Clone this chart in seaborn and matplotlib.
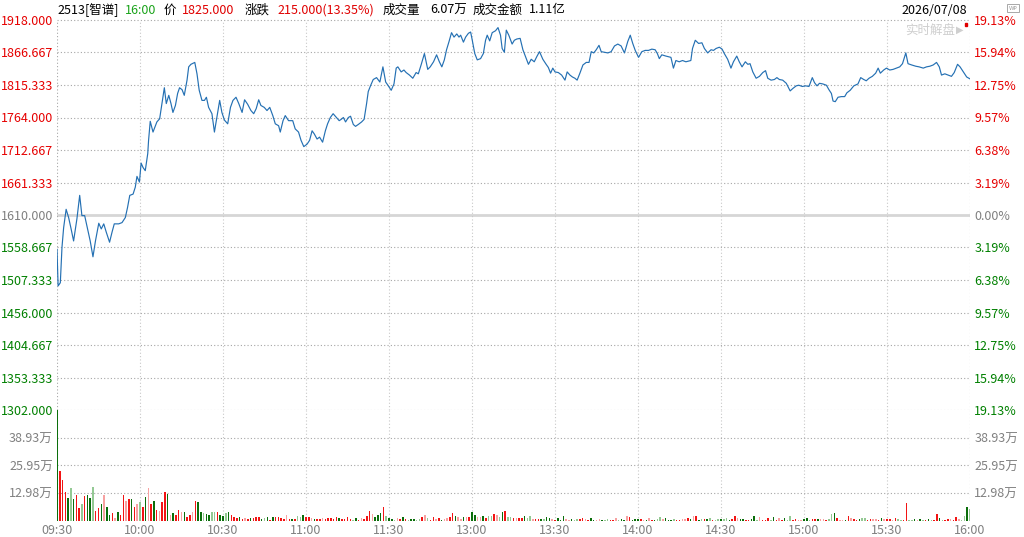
import numpy as np
import pandas as pd
import matplotlib
matplotlib.use("Agg")
import matplotlib.pyplot as plt
import seaborn as sns

# ---------------- data ----------------
prev_close = 1610.0

# minute offsets from 09:30 (HK session, lunch break removed) and prices
minutes_am = [0.0, 0.4, 1.2, 1.8, 2.4, 3.3, 4.2, 5.1, 6.0, 7.2, 8.2, 9.0, 10.0, 10.8, 12.0, 13.0, 13.9,
              15.1, 16.0, 16.9, 17.8, 19.0, 19.9, 20.7, 22.3, 23.5, 24.7, 25.5, 26.3, 27.5, 28.3, 28.9,
              29.8, 30.4, 31.1, 31.9, 32.8, 33.1, 33.7, 34.7, 35.3, 36.1, 37.1, 38.0, 38.8, 39.5, 40.4,
              41.2, 41.9, 42.8, 43.6, 44.3, 45.2, 46.0, 47.0, 47.6, 48.4, 49.8, 50.6, 51.4, 52.4, 53.3,
              54.0, 54.8, 56.0, 56.9, 57.8, 58.8, 59.6, 60.5, 61.7, 62.7, 63.6, 64.7, 65.7, 66.9, 67.8,
              68.9, 70.1, 71.1, 72.0, 72.9, 73.7, 74.9, 75.9, 76.9, 78.0, 78.9, 80.1, 80.7, 81.7, 82.5,
              83.7, 85.2, 86.1, 87.3, 88.2, 89.2, 90.4, 91.3, 92.2, 93.0, 94.0, 94.9, 96.0, 97.0, 97.8,
              98.8, 99.8, 101.0, 102.0]
prices_am = [1556, 1498, 1503, 1559, 1590, 1619, 1606, 1588, 1569, 1604, 1641, 1609, 1609, 1593, 1569, 1544, 1569,
             1597, 1588, 1596, 1583, 1567, 1583, 1596, 1596, 1598, 1606, 1622, 1641, 1643, 1654, 1671,
             1662, 1692, 1685, 1680, 1707, 1728, 1758, 1741, 1748, 1757, 1762, 1788, 1811, 1786, 1799,
             1786, 1772, 1783, 1802, 1811, 1808, 1799, 1823, 1844, 1848, 1851, 1833, 1807, 1791, 1791,
             1796, 1780, 1770, 1741, 1765, 1791, 1772, 1760, 1754, 1780, 1791, 1796, 1786, 1772, 1792,
             1785, 1775, 1770, 1778, 1792, 1783, 1780, 1775, 1780, 1767, 1754, 1751, 1741, 1759, 1767,
             1759, 1759, 1746, 1741, 1728, 1718, 1722, 1728, 1743, 1738, 1730, 1733, 1725, 1743, 1754,
             1764, 1770, 1764, 1759]

minutes_mid = [102.7, 103.5, 104.3, 105.3, 106.1, 107.1, 107.9, 108.9, 110.1, 111.0, 111.9, 112.5, 113.4,
               114.3, 115.5, 116.7, 117.8, 118.8, 119.6, 120.8, 121.8, 122.6, 123.2, 124.4, 125.4, 126.2,
               127.4, 128.6, 129.8, 130.6, 131.6, 132.8, 134.0, 134.9, 136.1, 137.2, 138.2, 139.1, 140.0,
               140.8, 141.7, 142.6, 143.5, 144.5, 145.3, 145.9, 146.9, 147.7, 148.7, 149.5, 150.1, 151.0,
               151.9, 153.1, 154.1, 154.9, 155.5, 156.4, 157.3, 158.5, 159.4, 160.3, 160.9, 161.7, 162.4,
               163.3, 164.5, 165.3, 166.2, 167.4, 168.4, 169.6, 170.4, 171.4, 172.5, 173.4, 174.4, 175.6,
               176.8, 177.6, 178.4, 179.2, 180.0, 181.2, 182.4, 183.6, 184.4, 185.4, 186.3, 187.2, 188.0,
               189.0, 190.1, 191.3, 192.3, 193.1, 194.0, 194.9, 195.9, 196.7, 197.9, 199.1, 200.3, 201.5,
               202.7, 203.9, 205.1, 206.3, 207.2, 208.1, 209.0, 210.2, 211.4, 212.6, 213.8, 215.0, 216.2,
               217.0]
prices_mid = [1761, 1764, 1757, 1764, 1766, 1753, 1750, 1753, 1757, 1761, 1786, 1805, 1815,
              1824, 1827, 1820, 1844, 1820, 1815, 1807, 1817, 1842, 1844, 1836, 1839, 1835,
              1831, 1826, 1835, 1833, 1847, 1865, 1840, 1844, 1852, 1863, 1852, 1844, 1855,
              1871, 1884, 1898, 1891, 1896, 1891, 1894, 1883, 1891, 1897, 1899, 1886, 1865,
              1855, 1857, 1865, 1886, 1894, 1885, 1898, 1901, 1906, 1894, 1873, 1867, 1902,
              1894, 1880, 1886, 1888, 1889, 1871, 1857, 1848, 1856, 1852, 1860, 1868, 1856,
              1848, 1843, 1834, 1842, 1836, 1835, 1831, 1823, 1836, 1831, 1828, 1826, 1823,
              1834, 1847, 1851, 1851, 1868, 1866, 1871, 1878, 1868, 1867, 1866, 1868, 1877,
              1880, 1877, 1866, 1884, 1894, 1881, 1870, 1859, 1868, 1870, 1870, 1872, 1871,
              1865]

minutes_pm = [217.7, 218.6, 220.1, 221.9, 222.8, 223.7, 224.9, 226.1, 227.3, 229.1, 229.7, 230.7, 231.9,
              233.1, 234.0, 235.2, 236.4, 237.3, 238.2, 239.4, 240.4, 241.2, 242.4, 243.6, 244.5, 245.7,
              246.6, 247.6, 248.8, 249.7, 250.5, 251.5, 252.7, 253.9, 255.1, 256.1, 256.9, 258.1, 259.3,
              260.2, 261.1, 262.3, 263.6, 265.0, 266.0, 267.2, 268.1, 269.4, 270.6, 271.8, 273.0, 273.8,
              274.7, 275.6, 276.8, 278.1, 279.0, 279.9, 280.5, 281.3, 282.3, 283.5, 284.7, 285.5, 286.7,
              288.0, 289.5, 290.5, 291.6, 292.5, 293.5, 294.7, 295.9, 296.8, 297.6, 298.8, 299.8, 301.0,
              302.2, 303.4, 304.6, 305.6, 306.8, 307.6, 308.9, 310.4, 311.6, 313.1, 314.3, 315.5, 316.7,
              317.9, 318.9, 319.7, 320.9, 322.1, 323.3, 324.3, 325.5, 326.4, 327.6, 328.8, 330.0]
prices_pm = [1857, 1863, 1861, 1859, 1842, 1854, 1852, 1854, 1852, 1854, 1873, 1886, 1881,
             1882, 1873, 1866, 1871, 1870, 1873, 1875, 1872, 1865, 1856, 1842, 1852, 1861,
             1852, 1844, 1852, 1848, 1849, 1836, 1826, 1829, 1835, 1838, 1826, 1823, 1824,
             1827, 1824, 1823, 1818, 1806, 1810, 1814, 1815, 1813, 1814, 1813, 1827, 1819,
             1814, 1818, 1817, 1815, 1808, 1802, 1790, 1789, 1796, 1797, 1797, 1803, 1807,
             1814, 1817, 1827, 1824, 1822, 1826, 1829, 1834, 1842, 1834, 1839, 1842, 1839,
             1840, 1842, 1844, 1849, 1866, 1849, 1847, 1845, 1844, 1842, 1844, 1845, 1847,
             1851, 1844, 1831, 1833, 1831, 1829, 1835, 1848, 1844, 1836, 1828, 1825]

# per-minute volume (万股), 331 bars, and bar shade codes
# r = up (red), p = up light, g = down (green), l = down light
volume_a = [52, 23.2, 19.2, 13.3, 10.5, 15.4, 10.0, 12.2, 5.8, 7.9,
            11.8, 12.2, 10.5, 16.0, 4.7, 6.0, 7.9, 12.2, 6.6, 2.7,
            3.6, 1.1, 3.9, 2.8, 12.2, 9.1, 10.2, 10.2, 6.6, 7.9,
            8.6, 6.6, 11.0, 15.2, 7.9, 9.4, 5.2, 4.7, 9.0, 13.3,
            12.6, 2.8, 3.5, 2.8, 5.0, 3.9, 3.9, 1.9, 2.5, 3.9,
            9.1, 8.6, 3.9, 3.5, 3.1, 2.8, 3.9, 3.9, 4.2, 2.7,
            2.4, 3.8, 4.2, 2.7, 1.6, 1.1, 1.9, 0.8, 1.1, 0.8,
            1.1, 1.4, 1.9, 1.6, 0.8, 1.1, 1.6, 0.6, 1.9, 1.6,
            1.6, 1.1, 0.8, 2.8, 0.8, 0.9, 0.8, 2.4, 1.9, 2.8,
            1.9, 1.6, 1.1, 0.8, 0.9, 0.8, 1.1, 0.8, 1.3, 1.1,
            0.8, 1.6, 1.1, 0.8, 0.8, 1.6]
shade_a = ("grrrglgrrl" "rgglrrgpgg" "rpgrrprgrp" "lrgprgrprr" "gpgrrpgrrp"
           "rgglggllrg" "glgrrrgrpr" "grrrglgrgr" "rrrprgrllg" "rrpgrrprrr" "rrgrrr")
volume_b = [0.9, 0.5, 1.3, 0.5, 1.3, 0.8, 2.2, 4.4, 3.2, 1.9,
            2.5, 3.8, 6.3, 2.4, 1.1, 0.8, 0.5, 1.3, 0.8, 1.9,
            0.8, 0.5, 0.8, 0.8, 0.5, 0.9, 1.9, 2.8, 1.3, 0.6,
            1.9, 0.9, 1.4, 0.6, 0.9, 1.4, 1.7, 3.8, 2.4, 1.6,
            0.9, 1.9, 1.9, 1.9, 4.1, 2.5, 1.9, 1.9, 2.4, 1.1,
            2.4, 2.4, 3.3, 2.5, 1.9, 4.1, 4.7, 1.9, 1.9, 1.1,
            1.3, 1.3, 1.4, 2.2, 1.3, 2.2, 0.9, 0.9, 0.9, 0.8,
            0.9, 1.9, 1.4, 0.9, 0.6, 1.3]
shade_b = ("rlgrprrrpg" "ggrlgglprg" "rlggllrplr" "rprgpprrgp" "pgprggppgr"
           "llrplgrllr" "prrgllprrg" "lggprg")
volume_c = [0.6, 2.2, 0.9, 0.6, 0.9, 0.6, 0.9, 0.9, 1.4, 0.9,
            0.6, 1.4, 0.6, 0.6, 0.9, 0.6, 0.6, 0.9, 0.6, 0.6,
            1.4, 0.6, 0.9, 0.6, 2.2, 1.9, 0.6, 0.9, 0.8, 0.9,
            0.6, 0.6, 1.3, 0.6, 0.6, 0.9, 1.7, 0.9, 1.4, 0.6,
            0.6, 0.9, 0.6, 0.6, 0.9, 0.9, 1.4, 0.9, 2.2, 2.4,
            0.6, 0.9, 0.9, 0.9, 1.4, 0.6, 0.6, 0.9, 0.9, 0.9,
            1.4, 0.6, 0.9, 2.2, 1.4, 0.9, 0.9, 0.6, 0.6, 0.9,
            2.2, 0.6, 1.6, 0.6]
shade_c = ("ggppgllrrp" "rggppgllrr" "plggprgggr" "pgprgllpgg" "glrrpprgpr"
           "glrglrllgl" "lgrrpggrrg" "glpr")
volume_d = [0.6, 1.1, 0.6, 1.9, 0.6, 1.3, 0.6, 1.3, 0.6, 2.2,
            0.6, 0.9, 0.6, 0.6, 0.9, 1.3, 0.6, 0.9, 0.9, 0.9,
            0.9, 0.9, 0.6, 0.9, 3.2, 3.8, 1.3, 0.6, 0.6, 0.6,
            2.2, 1.3, 0.9, 0.6, 0.9, 1.3, 1.3, 0.6, 0.9, 0.9,
            0.9, 0.6, 1.3, 0.9, 0.8, 0.9, 0.6, 1.3, 0.9, 0.6,
            0.3, 8.5, 0.6, 0.6, 0.9, 0.6, 0.9, 0.6, 0.6, 0.9,
            0.6, 0.6, 3.2, 1.3, 0.6, 0.6, 0.9, 0.9, 0.6, 1.6,
            0.9, 0.6, 2.2, 6.6, 5.7]
shade_d = ("rrlgrprgll" "rrppgglrrg" "pprllgrppg" "rprrgllrrp" "prgprrprll"
           "rrllgpglrg" "lrrglrrprr" "pllgl")

price_ticks = [1302.000, 1353.333, 1404.667, 1456.000, 1507.333, 1558.667, 1610.000,
               1661.333, 1712.667, 1764.000, 1815.333, 1866.667, 1918.000]
volume_ticks = [12.98, 25.95, 38.93]
volume_top = 51.92
time_labels = ["09:30", "10:00", "10:30", "11:00", "11:30", "13:00",
               "13:30", "14:00", "14:30", "15:00", "15:30", "16:00"]

header = [("2513[智谱]", "#000000"), ("16:00", "#1aa31a"), ("价", "#000000"),
          ("1825.000", "#e00000"), ("涨跌", "#000000"), ("215.000(13.35%)", "#e00000"),
          ("成交量", "#000000"), ("6.07万", "#000000"), ("成交金额", "#000000"), ("1.11亿", "#000000")]
header_x = [57, 125, 164, 182, 245, 277, 383, 430, 473, 529]
trade_date = "2026/07/08"

# ---------------- style ----------------
sns.set_style("white")
plt.rcParams['font.family'] = ['Noto Sans CJK SC', 'DejaVu Sans']
plt.rcParams['axes.unicode_minus'] = False

RED = "#e60000"
GREEN = "#008000"
GRAY = "#808080"
GRID_H = "#a6a6a6"
GRID_V = "#c8c8c8"
shade_colors = {"r": "#f21414", "p": "#f7a1a1", "g": "#0b6e0b", "l": "#94c994"}

W, H = 1024, 537
fig = plt.figure(figsize=(W / 100, H / 100), dpi=100)
fig.patch.set_facecolor("white")

x0, x1 = 57, 970
ax = fig.add_axes([x0 / W, 1 - 410 / H, (x1 - x0) / W, 390 / H])
axv = fig.add_axes([x0 / W, 1 - 520.8 / H, (x1 - x0) / W, 110.8 / H], sharex=ax)

price_df = pd.DataFrame({
    "minute": minutes_am + minutes_mid + minutes_pm,
    "price": prices_am + prices_mid + prices_pm,
})
volume = np.array(volume_a + volume_b + volume_c + volume_d, dtype=float)
shade = shade_a + shade_b + shade_c + shade_d
vol_df = pd.DataFrame({"minute": np.arange(len(volume)), "vol": volume,
                       "color": [shade_colors[s] for s in shade]})

# ---------------- price panel ----------------
for spine in ax.spines.values():
    spine.set_visible(False)
ax.set_xlim(0, 330)
ax.set_ylim(price_ticks[0], price_ticks[-1])

for t in price_ticks:
    if abs(t - prev_close) < 1e-6:
        ax.axhline(t, color="#d6d6d6", lw=2.0, zorder=1)
    else:
        ax.axhline(t, color=GRID_H, lw=0.8, ls=(0, (1, 2)), zorder=1, clip_on=False)
for m in range(0, 331, 30):
    col = GRID_H if m in (0, 330) else GRID_V
    ax.axvline(m, color=col, lw=0.8, ls=(0, (1, 2)), zorder=1)
    axv.axvline(m, color=col, lw=0.8, ls=(0, (1, 2)), zorder=1)

sns.lineplot(data=price_df, x="minute", y="price", ax=ax, color="#2470b3",
             linewidth=0.85, zorder=3, estimator=None, sort=False)

ax.set_yticks(price_ticks)
ax.set_yticklabels([f"{t:.3f}" for t in price_ticks])
ax.tick_params(axis="y", length=0, pad=3, labelsize=9)
ax.tick_params(axis="x", length=0, labelbottom=False)
for lab, t in zip(ax.get_yticklabels(), price_ticks):
    lab.set_color(RED if t > prev_close + 1e-6 else (GREEN if t < prev_close - 1e-6 else GRAY))
ax.set_xlabel("")
ax.set_ylabel("")

ax_r = ax.twinx()
for spine in ax_r.spines.values():
    spine.set_visible(False)
ax_r.set_ylim(ax.get_ylim())
ax_r.set_yticks(price_ticks)
ax_r.set_yticklabels([f"{abs(t - prev_close) / prev_close * 100:.2f}%" for t in price_ticks])
ax_r.tick_params(axis="y", length=0, pad=3, labelsize=9)
for lab, t in zip(ax_r.get_yticklabels(), price_ticks):
    lab.set_color(RED if t > prev_close + 1e-6 else (GREEN if t < prev_close - 1e-6 else GRAY))

# ---------------- volume panel ----------------
for spine in axv.spines.values():
    spine.set_visible(False)
axv.set_ylim(0, volume_top)
for t in volume_ticks:
    axv.axhline(t, color=GRID_H, lw=0.8, ls=(0, (1, 2)), zorder=1)
axv.bar(vol_df["minute"], vol_df["vol"], width=0.55, color=vol_df["color"],
        linewidth=0, zorder=3)
axv.set_yticks(volume_ticks)
axv.set_yticklabels([f"{t:.2f}万" for t in volume_ticks])
axv.tick_params(axis="y", length=0, pad=3, labelsize=9, labelcolor=GRAY)
axv_r = axv.twinx()
for spine in axv_r.spines.values():
    spine.set_visible(False)
axv_r.set_ylim(axv.get_ylim())
axv_r.set_yticks(volume_ticks)
axv_r.set_yticklabels([f"{t:.2f}万" for t in volume_ticks])
axv_r.tick_params(axis="y", length=0, pad=3, labelsize=9, labelcolor=GRAY)

axv.set_xticks(range(0, 331, 30))
axv.set_xticklabels(time_labels)
axv.tick_params(axis="x", length=0, pad=2, labelsize=9, labelcolor=GRAY)
axv.set_xlim(0, 330)

# ---------------- header ----------------
hy = 1 - 10 / H
for (txt, col), hx in zip(header, header_x):
    fig.text(hx / W, hy, txt, color=col, fontsize=9, ha="left", va="center")
fig.text(967 / W, hy, trade_date, color="#000000", fontsize=9, ha="right", va="center")
fig.text(905 / W, 1 - 30 / H, "实时解盘", color="#cfcfcf", fontsize=9, ha="left", va="center")
fig.text(956 / W, 1 - 30 / H, "▶", color="#cfcfcf", fontsize=7, ha="left", va="center",
         family=["DejaVu Sans"])
fig.patches.append(plt.Rectangle((964.5 / W, 1 - 25.5 / H), 2.5 / W, 2.5 / H,
                                 transform=fig.transFigure, color="#e00000"))
fig.text(1013 / W, 1 - 8 / H, "WP", color="#9a9a9a", fontsize=4, ha="center", va="center",
         family=["DejaVu Sans"],
         bbox=dict(boxstyle="square,pad=0.3", fc="white", ec="#9a9a9a", lw=0.6))

fig.savefig("out.png", dpi=100, facecolor="white")
